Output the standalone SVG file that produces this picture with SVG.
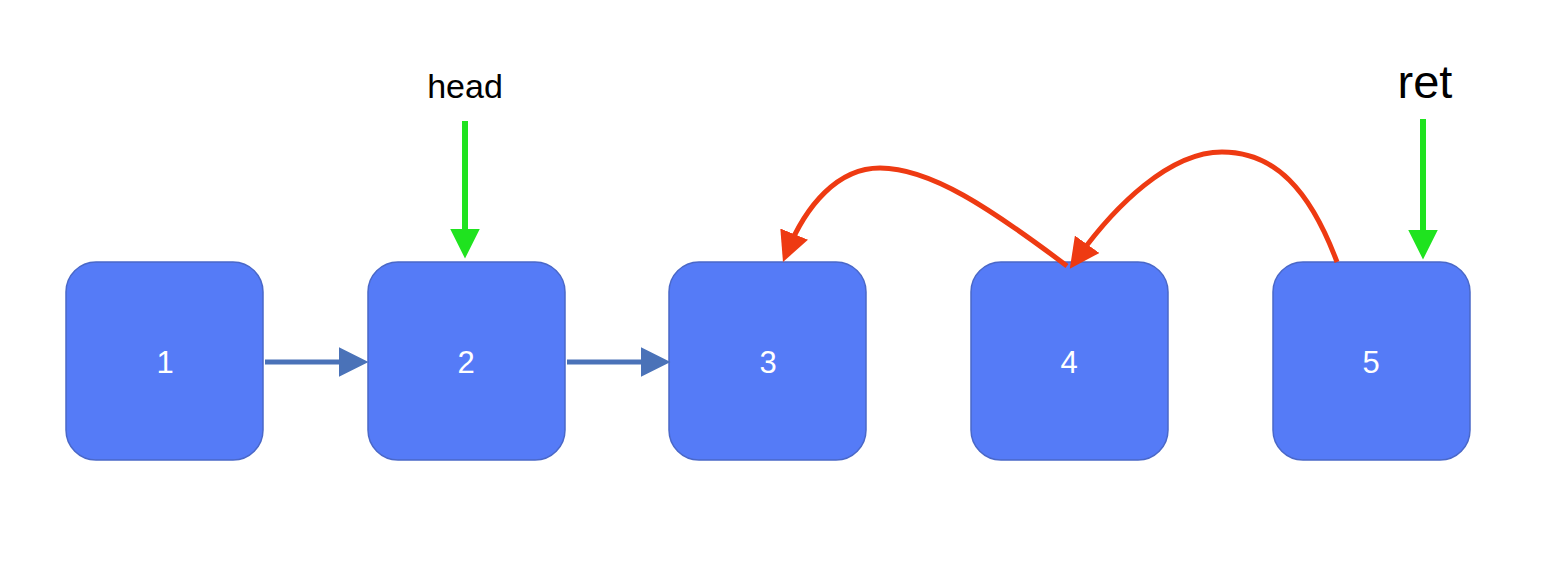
<svg xmlns="http://www.w3.org/2000/svg" width="1568" height="580" viewBox="0 0 1568 580">
<style>
.node rect{fill:#557bf7;stroke:#4a68c8;stroke-width:1.5}
.node text{fill:#ffffff;font-family:"Liberation Sans",Arial,sans-serif;font-size:31px;text-anchor:middle}
.lbl{fill:#000;font-family:"Liberation Sans",Arial,sans-serif;text-anchor:middle}
.blue{stroke:#4a72b8;stroke-width:5;fill:none}
.green{stroke:#1fe31f;stroke-width:6;fill:none}
.red{stroke:#ee3a12;stroke-width:5;fill:none}
</style>
<defs>
<marker id="ab" markerUnits="userSpaceOnUse" markerWidth="30" markerHeight="30" viewBox="0 0 26 26" refX="16" refY="13" orient="auto"><path d="M0,0 L26,13 L0,26 Z" fill="#4a72b8"/></marker>
<marker id="ag" markerUnits="userSpaceOnUse" markerWidth="30" markerHeight="30" viewBox="0 0 26 26" refX="16" refY="13" orient="auto"><path d="M0,0 L26,13 L0,26 Z" fill="#1fe31f"/></marker>
<marker id="ar" markerUnits="userSpaceOnUse" markerWidth="30" markerHeight="30" viewBox="0 0 28 28" refX="18" refY="14" orient="auto"><path d="M0,0 L28,14 L0,28 Z" fill="#ee3a12"/></marker>
</defs>
<rect width="1568" height="580" fill="#ffffff"/>
<g id="n1" class="node"><rect x="66" y="262" width="197" height="198" rx="30"/><text x="165" y="373">1</text></g>
<g id="n2" class="node"><rect x="368" y="262" width="197" height="198" rx="30"/><text x="466" y="373">2</text></g>
<g id="n3" class="node"><rect x="669" y="262" width="197" height="198" rx="30"/><text x="768" y="373">3</text></g>
<g id="n4" class="node"><rect x="971" y="262" width="197" height="198" rx="30"/><text x="1069" y="373">4</text></g>
<g id="n5" class="node"><rect x="1273" y="262" width="197" height="198" rx="30"/><text x="1371" y="373">5</text></g>
<g id="head"><text class="lbl" x="465" y="98" font-size="34">head</text></g>
<g id="ret"><text class="lbl" x="1425" y="98" font-size="47">ret</text></g>
<g id="connectors">
<path class="blue" d="M265,362 L357,362" marker-end="url(#ab)"/>
<path class="blue" d="M567,362 L659,362" marker-end="url(#ab)"/>
<path class="green" d="M465,121 L465,247" marker-end="url(#ag)"/>
<path class="green" d="M1423,119 L1423,248" marker-end="url(#ag)"/>
<path class="red" d="M1067,266 C990,208 930,168 880,168 C838,168 806,205 787,252" marker-end="url(#ar)"/>
<path class="red" d="M1337,262 C1310,190 1275,152 1222,152 C1170,152 1115,205 1076,260" marker-end="url(#ar)"/>
</g>
</svg>
